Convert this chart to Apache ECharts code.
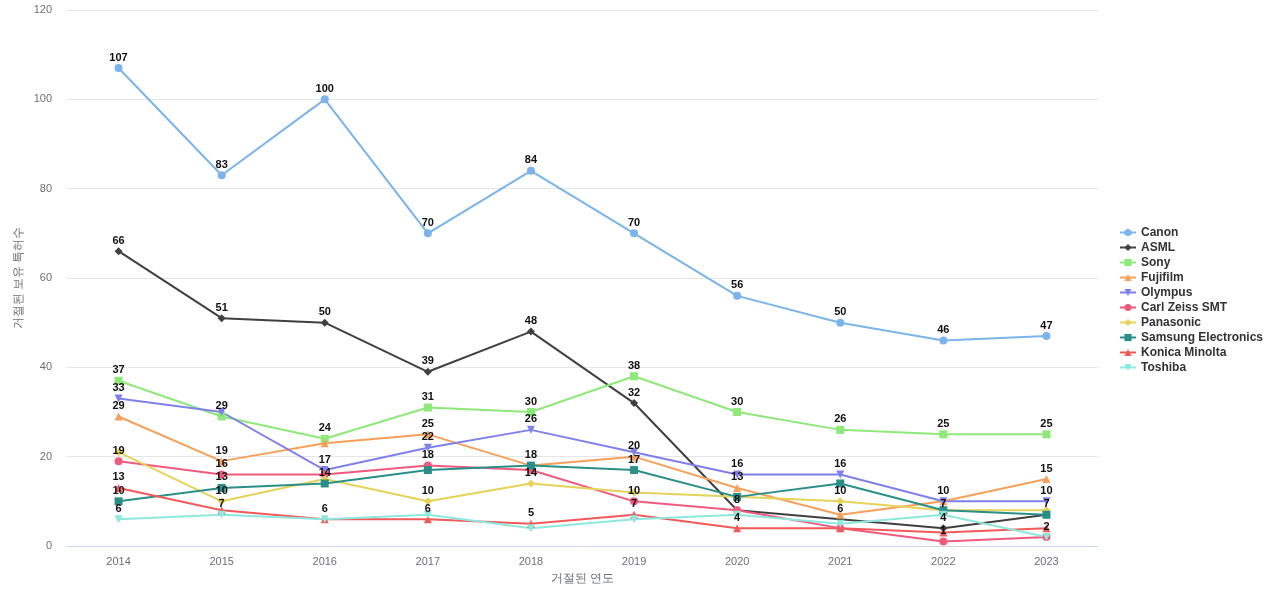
<!DOCTYPE html>
<html>
<head>
<meta charset="utf-8">
<script src="https://cdn.jsdelivr.net/npm/echarts@6/dist/echarts.min.js"></script>
<style>html,body{margin:0;padding:0;background:#fff;}#c{width:1280px;height:600px;}</style>
</head>
<body>
<div id="c"></div>
<script>
const years = ['2014','2015','2016','2017','2018','2019','2020','2021','2022','2023'];
const canon    = [107, 83, 100, 70, 84, 70, 56, 50, 46, 47];
const asml     = [66, 51, 50, 39, 48, 32, 8, 6, 4, 7];
const sony     = [37, 29, 24, 31, 30, 38, 30, 26, 25, 25];
const fujifilm = [29, 19, 23, 25, 18, 20, 13, 7, 10, 15];
const olympus  = [33, 30, 17, 22, 26, 21, 16, 16, 10, 10];
const zeiss    = [19, 16, 16, 18, 17, 10, 8, 4, 1, 2];
const panasonic= [21, 10, 15, 10, 14, 12, 11, 10, 8, 8];
const samsung  = [10, 13, 14, 17, 18, 17, 11, 14, 8, 7];
const konica   = [13, 8, 6, 6, 5, 7, 4, 4, 3, 4];
const toshiba  = [6, 7, 6, 7, 4, 6, 7, 5, 7, 2];

const seriesDefs = [
  ['Canon', canon, '#7ab4ea', 'circle', 0],
  ['ASML', asml, '#404040', 'diamond', 0],
  ['Sony', sony, '#8ee87a', 'rect', 0],
  ['Fujifilm', fujifilm, '#f6a05a', 'triangle', 0],
  ['Olympus', olympus, '#7f80ea', 'triangle', 180],
  ['Carl Zeiss SMT', zeiss, '#f05a7e', 'circle', 0],
  ['Panasonic', panasonic, '#e4d358', 'diamond', 0],
  ['Samsung Electronics', samsung, '#2b8f89', 'rect', 0],
  ['Konica Minolta', konica, '#f25a5a', 'triangle', 0],
  ['Toshiba', toshiba, '#8de8de', 'triangle', 180]
];

const chart = echarts.init(document.getElementById('c'));
chart.setOption({
  animation: false,
  color: seriesDefs.map(s => s[2]),
  grid: { left: 67, right: 182, top: 10, bottom: 54 },
  legend: {
    orient: 'vertical', left: 1114, top: 'middle',
    itemWidth: 16, itemHeight: 9, itemGap: 3,
    textStyle: { fontSize: 12, fontWeight: 'bold', color: '#333' },
    data: seriesDefs.map(s => s[0])
  },
  xAxis: {
    type: 'category', data: years,
    name: '거절된 연도', nameLocation: 'middle', nameGap: 27,
    nameTextStyle: { color: '#6e7079', fontSize: 12 },
    axisTick: { show: false },
    axisLine: { lineStyle: { color: '#ccd6eb' } },
    axisLabel: { color: '#6e7079', fontSize: 11, margin: 10 }
  },
  yAxis: {
    type: 'value', min: 0, max: 120, interval: 20,
    name: '거절된 보유 특허수', nameLocation: 'middle', nameGap: 42,
    nameMoveOverlap: false,
    nameTextStyle: { color: '#6e7079', fontSize: 12 },
    axisLabel: { color: '#6e7079', fontSize: 11, margin: 15 },
    splitLine: { lineStyle: { color: '#e6e6e6' } }
  },
  series: seriesDefs.map(s => ({
    name: s[0], type: 'line', data: s[1],
    symbol: s[3], symbolRotate: s[4], symbolSize: 8,
    lineStyle: { width: 2 },
    label: { show: true, position: 'top', distance: 1, color: '#111', fontSize: 11, fontWeight: 'bold' },
    labelLayout: { hideOverlap: true }
  }))
});
</script>
</body>
</html>
